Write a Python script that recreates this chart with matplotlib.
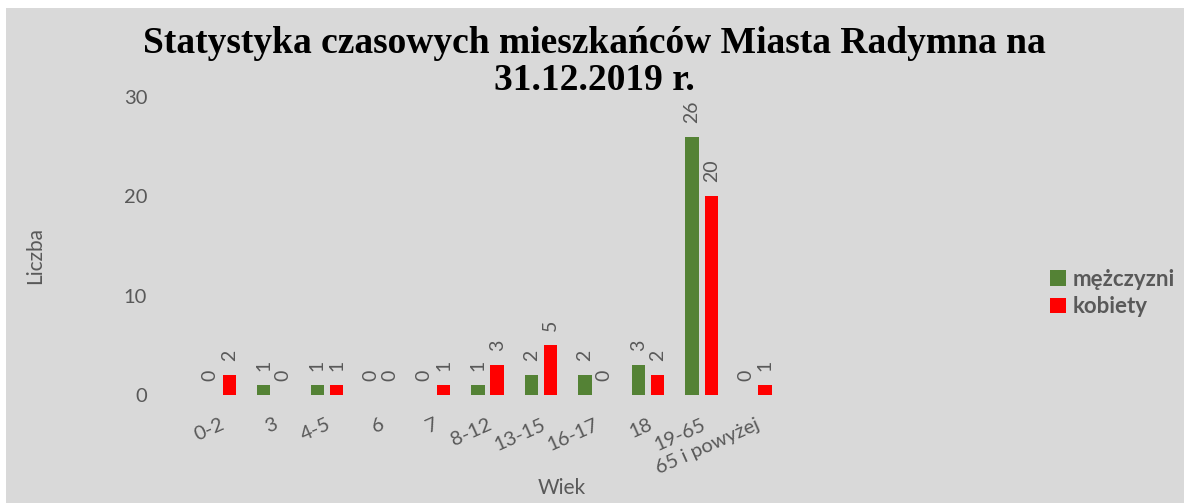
import matplotlib.pyplot as plt
import matplotlib.patches as mpatches
import numpy as np

# DATA
categories = ["0-2", "3", "4-5", "6", "7", "8-12", "13-15", "16-17", "18", "19-65", "65 i powyżej"]
mezczyzni = [0, 1, 1, 0, 0, 1, 2, 2, 3, 26, 0]
kobiety = [2, 0, 1, 0, 1, 3, 5, 0, 2, 20, 1]

GRAY_TXT = "#595959"
BG = "#d9d9d9"

fig = plt.figure(figsize=(11.84, 5.03), dpi=100, facecolor="white")
# gray chart area with thin white margin at top/left
fig.patches.append(mpatches.Rectangle((6 / 1184, 0), 1, 1 - 8 / 503, transform=fig.transFigure,
                                      facecolor=BG, edgecolor="none", zorder=-10))

ax = fig.add_axes([193 / 1184, 108 / 503, 589 / 1184, 298 / 503])
ax.set_facecolor("none")
ax.set_zorder(2)

x = np.arange(len(categories))
w = 0.25
off = 0.18
b1 = ax.bar(x - off, mezczyzni, w, color="#548235", label="mężczyzni")
b2 = ax.bar(x + off, kobiety, w, color="#ff0000", label="kobiety")

for bars in (b1, b2):
    for r in bars:
        h = r.get_height()
        ax.annotate(str(int(h)), (r.get_x() + r.get_width() / 2, h), xytext=(0, 10),
                    textcoords="offset points", rotation=90, ha="center", va="bottom",
                    fontsize=14, color=GRAY_TXT, family="Lato", annotation_clip=False)

ax.set_ylim(0, 30)
ax.set_xlim(-0.5, len(categories) - 0.5)
ax.set_yticks([0, 10, 20, 30])
ax.set_xticks(x)
ax.set_xticklabels(categories, rotation=24, ha="right", rotation_mode="anchor")
for lab in ax.get_xticklabels() + ax.get_yticklabels():
    lab.set_fontsize(14.5)
    lab.set_color(GRAY_TXT)
    lab.set_family("Lato")
ax.tick_params(axis="both", length=0)
ax.tick_params(axis="y", pad=33)
ax.tick_params(axis="x", pad=15)
for s in ax.spines.values():
    s.set_visible(False)

fig.text(562 / 1184, 1 - 488 / 503, "Wiek", ha="center", va="center", fontsize=15,
         color=GRAY_TXT, family="Lato")
fig.text(35 / 1184, 1 - 256 / 503, "Liczba", ha="center", va="center", rotation=90,
         fontsize=15, color=GRAY_TXT, family="Lato")

fig.text(594 / 1184, 1 - 62 / 503, "Statystyka czasowych mieszkańców Miasta Radymna na\n31.12.2019 r.",
         ha="center", va="center", fontsize=27, fontweight="bold", family="Liberation Serif",
         linespacing=1.1, color="black")

leg = fig.legend(handles=[b1, b2], loc="center left", bbox_to_anchor=(1030 / 1184, 1 - 293 / 503),
                 frameon=False, handlelength=0.7, handleheight=0.7, handletextpad=0.3,
                 labelspacing=0.3, prop={"family": "Lato", "weight": "bold", "size": 16})
for t in leg.get_texts():
    t.set_color(GRAY_TXT)

fig.savefig("out.png", dpi=100, facecolor=fig.get_facecolor())
